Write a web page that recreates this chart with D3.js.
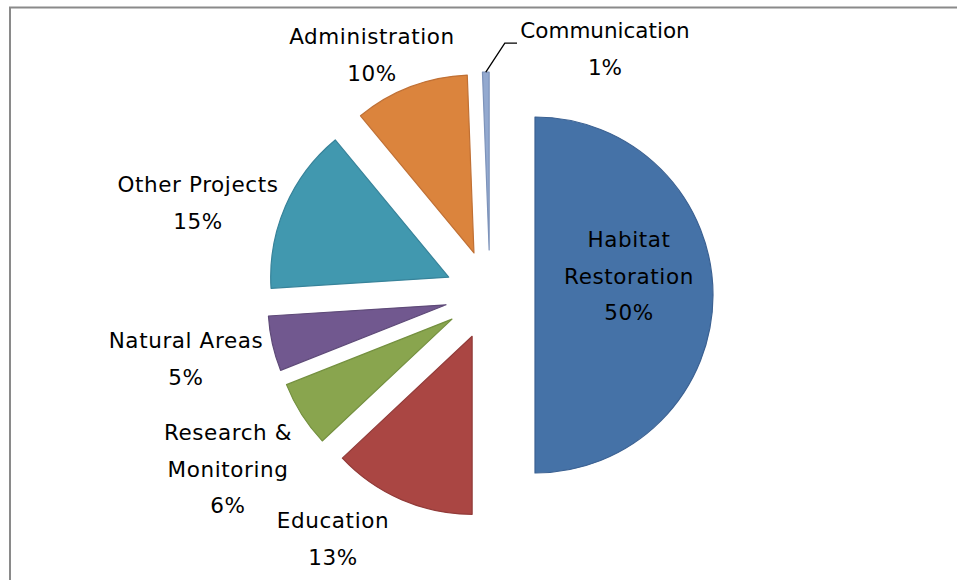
<!DOCTYPE html>
<html>
<head>
<meta charset="utf-8">
<script src="https://cdn.jsdelivr.net/npm/d3@7"></script>
<style>
  html, body { margin: 0; padding: 0; background: #fff; }
  svg { display: block; }
  text { font-family: "DejaVu Sans", sans-serif; font-size: 21.5px; letter-spacing: 0.6px; fill: #000; }
  text.tight { letter-spacing: 0; }
</style>
</head>
<body>
<svg id="chart" width="957" height="580"></svg>
<script>
// ---- data ----
const categories = ["Habitat Restoration", "Education", "Research & Monitoring", "Natural Areas", "Other Projects", "Administration", "Communication"];
const values = [50, 13, 6, 5, 15, 10.4, 0.6];
const nameLines = [
  ["Habitat", "Restoration"],
  ["Education"],
  ["Research &", "Monitoring"],
  ["Natural Areas"],
  ["Other Projects"],
  ["Administration"],
  ["Communication"]
];
const colors = ["#4572A7", "#AA4643", "#89A54E", "#71588F", "#4198AF", "#DB843D", "#93A9CF"];
const strokes = ["#3B6192", "#923B39", "#74903F", "#5E4A78", "#37839A", "#C07034", "#7D93BA"];

// ---- layout ----
const W = 957, H = 580;
const cx = 490, cy = 295, R = 178, explode = 45;
const lineH = 36.5;
// label anchor: centre x and first baseline
const labelAnchor = [
  [629, 247],
  [333, 528],
  [228, 440],
  [186, 348],
  [198, 192],
  [372, 44],
  [605, 38]
];

const svg = d3.select("#chart");

// frame
svg.append("rect")
  .attr("x", 10).attr("y", 7.5)
  .attr("width", W + 20).attr("height", H + 20)
  .attr("fill", "none").attr("stroke", "#8a8a8a").attr("stroke-width", 2);

const total = d3.sum(values);
const pie = d3.pie().sort(null).value(d => d.v).startAngle(0).endAngle(2 * Math.PI);
const data = categories.map((c, i) => ({ c, v: values[i], i }));
const arcs = pie(data);
const arc = d3.arc().innerRadius(0).outerRadius(R);

const g = svg.append("g").attr("transform", `translate(${cx},${cy})`);

arcs.forEach(a => {
  const mid = (a.startAngle + a.endAngle) / 2;
  a.ox = explode * Math.sin(mid);
  a.oy = -explode * Math.cos(mid);
  a.mid = mid;
});

g.selectAll("path.slice")
  .data(arcs)
  .join("path")
  .attr("class", "slice")
  .attr("transform", d => `translate(${d.ox},${d.oy})`)
  .attr("d", arc)
  .attr("fill", d => colors[d.data.i])
  .attr("stroke", d => strokes[d.data.i])
  .attr("stroke-width", 1.2)
  .attr("stroke-linejoin", "round");

// leader line for Communication (smallest slice)
const comm = arcs[6];
const sx = cx + comm.ox + R * Math.sin(comm.mid);
const sy = cy + comm.oy - R * Math.cos(comm.mid);
const ca = labelAnchor[6];
svg.append("path")
  .attr("d", d3.line()([[sx, sy], [sx + 19, sy - 29], [ca[0] - 88, sy - 29]]))
  .attr("fill", "none").attr("stroke", "#000").attr("stroke-width", 1.3);

// labels
nameLines.forEach((lines, i) => {
  const all = lines.concat([Math.round(values[i] / total * 100) + "%"]);
  const t = svg.append("text").attr("text-anchor", "middle")
    .attr("class", i === 6 ? "tight" : null);
  all.forEach((s, k) => {
    t.append("tspan")
      .attr("x", labelAnchor[i][0])
      .attr("y", labelAnchor[i][1] + k * lineH)
      .text(s);
  });
});
</script>
</body>
</html>
